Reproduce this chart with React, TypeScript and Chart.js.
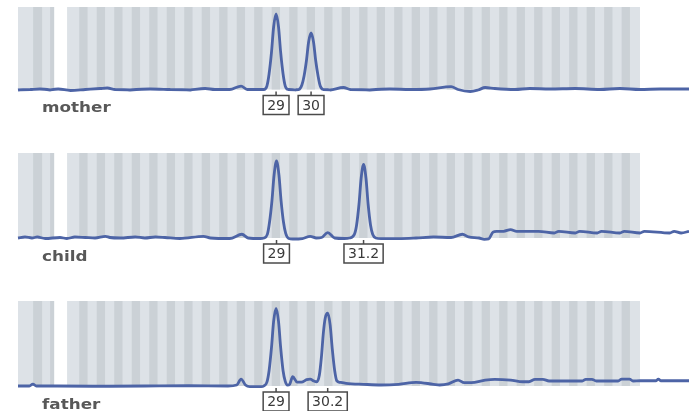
import { useEffect, useRef } from "react";
import { Chart, registerables } from "chart.js";

Chart.register(...registerables);

// x axis: fragment size (bp); y axis: signal (RFU)
const X_MIN = 180.5;
const X_MAX = 257.2;
const BIN_TOP = 1000;

// allele bins (shaded background)
const lightBins: number[][] = [
  [180.5, 184.63],
  [186.11, 251.6],
];
const darkBins: number[][] = [
  [182.23, 183.26], [184.17, 184.63],
  [187.5, 188.45], [189.5, 190.45], [191.5, 192.45], [193.5, 194.45],
  [195.5, 196.45], [197.5, 198.45], [199.5, 200.45], [201.5, 202.45],
  [203.5, 204.45], [205.5, 206.45], [207.5, 208.45], [209.5, 210.45],
  [211.5, 212.45], [213.5, 214.45], [215.5, 216.45], [217.5, 218.45],
  [219.5, 220.45], [221.5, 222.45], [223.5, 224.45], [225.5, 226.45],
  [227.5, 228.45], [229.5, 230.45], [231.5, 232.45], [233.5, 234.45],
  [235.5, 236.45], [237.5, 238.45], [239.5, 240.45], [241.5, 242.45],
  [243.5, 244.45], [245.5, 246.45], [247.5, 248.45], [249.5, 250.45],
];

const sampleNames = ["mother", "child", "father"];

// mother trace
const motherX = [
  180.5, 181.9, 183.0, 184.2, 185.1, 186.5, 188.2, 189.9, 190.7, 191.6, 193.3, 195.6, 197.9,
  200.2, 201.9, 203.0, 204.7, 206.0, 206.7, 208.2,
  208.6, 208.95, 209.2, 209.48, 209.72, 210.0, 210.28, 210.52, 210.8, 211.05, 211.4,
  212.2, 212.6, 212.95, 213.2, 213.48, 213.72, 214.0, 214.28, 214.52, 214.8, 215.05, 215.4,
  216.2, 217.7, 218.5, 220.7, 223.0, 225.3, 227.6, 230.0, 230.8, 232.2, 233.1, 233.9, 235.0,
  237.3, 239.0, 241.3, 244.2, 247.0, 249.3, 251.6, 253.9, 257.2,
];
const motherY = [
  -6, 0, 6, -6, 6, -12, 0, 12, 18, 0, -6, 6, 0,
  -6, 12, 0, 0, 42, 0, 0,
  0, 42, 188, 455, 758, 915, 758, 455, 188, 42, 0,
  -6, 0, 55, 164, 358, 576, 685, 576, 358, 164, 42, 0,
  -6, 24, 0, -6, 6, 0, 6, 36, 0, -24, -6, 24, 12,
  0, 12, 6, 12, 0, 12, 0, 6, 6,
];
const motherAlleles = ["29", "30"];
const motherAlleleBp = [210, 214];

// child trace
const childX = [
  180.5, 181.3, 182.1, 182.7, 183.6, 185.3, 186.1, 187.0, 188.2, 189.3, 190.5, 191.0, 192.2,
  193.9, 195.0, 196.2, 197.3, 199.0, 201.7, 202.5, 204.7, 206.1, 206.8, 208.2,
  208.6, 209.0, 209.25, 209.53, 209.77, 210.05, 210.33, 210.57, 210.85, 211.1, 211.45,
  211.9, 213.0, 213.9, 214.6, 215.2, 215.9, 216.7, 217.8, 218.4,
  218.95, 219.2, 219.48, 219.72, 220.0, 220.28, 220.52, 220.8, 221.05, 221.4,
  222.0, 224.0, 226.0, 228.0, 230.0, 231.3, 232.0, 233.2, 233.8, 234.3, 234.8, 235.2,
  236.0, 236.8, 237.5, 240.0, 241.8, 242.3, 244.2, 244.7, 246.7, 247.2, 249.3, 249.8,
  251.6, 252.1, 255.0, 255.5, 256.3, 257.2,
];
const childY = [
  0, 12, 0, 12, -6, 6, -6, 12, 6, 0, 20, 6, 0,
  12, 0, 12, 6, -6, 20, 0, -6, 44, 0, -6,
  0, 42, 185, 441, 738, 906, 738, 441, 185, 55, -6,
  -12, -6, 20, 0, 6, 64, 0, -6, 0,
  42, 150, 400, 700, 867, 700, 400, 150, 42, 0,
  -7, -7, 0, 12, 6, 44, 12, 0, -15, -10, 70, 79,
  79, 99, 79, 79, 59, 79, 59, 79, 59, 79, 59, 79,
  59, 79, 59, 79, 59, 79,
];
const childAlleles = ["29", "31.2"];
const childAlleleBp = [210.05, 220];

// father trace
const fatherX = [
  180.5, 181.8, 182.2, 182.6, 185.0, 190.0, 195.0, 200.0, 204.5, 205.5, 206.0, 206.5,
  207.0, 208.3,
  208.6, 208.95, 209.2, 209.48, 209.72, 210.0, 210.28, 210.52, 210.8, 211.05, 211.3,
  211.55, 211.9, 212.4, 212.9, 213.5, 213.9, 214.3,
  214.65, 214.95, 215.2, 215.4, 215.62, 215.9, 216.18, 216.42, 216.7, 216.95, 217.3,
  218.0, 220.0, 222.0, 224.0, 226.0, 228.0, 228.7, 229.7, 230.8, 231.5, 232.3, 233.9,
  235.0, 236.8, 238.2, 238.9, 239.6, 240.5, 241.2, 245.0, 245.4, 246.1, 246.6, 249.1,
  249.5, 250.4, 250.8, 251.6, 253.4, 253.7, 254.0, 257.2,
];
const fatherY = [
  0, 0, 23, 0, 0, -3, 0, 3, 0, 12, 82, 12,
  -8, -8,
  0, 45, 180, 457, 760, 914, 760, 457, 180, 55, 10,
  20, 109, 45, 45, 75, 82, 60,
  50, 130, 360, 620, 800, 856, 720, 440, 180, 60, 43,
  32, 20, 12, 20, 43, 20, 12, 25, 70, 39, 39, 70,
  79, 70, 50, 50, 79, 79, 59, 59, 79, 79, 59, 59,
  82, 82, 59, 62, 62, 82, 62, 62,
];
const fatherAlleles = ["29", "30.2"];
const fatherAlleleBp = [210, 215.9];

const panels = [
  { name: sampleNames[0], xs: motherX, ys: motherY, alleles: motherAlleles, allelePos: motherAlleleBp, top: 7, gap: 82.5, height: 113 },
  { name: sampleNames[1], xs: childX, ys: childY, alleles: childAlleles, allelePos: childAlleleBp, top: 153, gap: 85, height: 113 },
  { name: sampleNames[2], xs: fatherX, ys: fatherY, alleles: fatherAlleles, allelePos: fatherAlleleBp, top: 301, gap: 85, height: 110 },
];

const binPlugin = {
  id: "bins",
  beforeDatasetsDraw(chart: any) {
    const { ctx, scales } = chart;
    const xs = scales.x;
    const ys = scales.y;
    const yTop = ys.getPixelForValue(BIN_TOP);
    const yBot = ys.getPixelForValue(0);
    ctx.save();
    ctx.fillStyle = "rgb(221,226,231)";
    for (const [a, b] of lightBins) {
      const x0 = xs.getPixelForValue(a);
      const x1 = xs.getPixelForValue(b);
      ctx.fillRect(x0, yTop, x1 - x0, yBot - yTop);
    }
    ctx.fillStyle = "rgb(203,209,214)";
    for (const [a, b] of darkBins) {
      const x0 = xs.getPixelForValue(a);
      const x1 = xs.getPixelForValue(b);
      ctx.fillRect(x0, yTop, x1 - x0, yBot - yTop);
    }
    ctx.restore();
  },
};

function makeLabelPlugin(name: string, alleles: string[], pos: number[]) {
  return {
    id: "labels",
    afterDatasetsDraw(chart: any) {
      const { ctx, scales } = chart;
      const xs = scales.x;
      const base = scales.y.getPixelForValue(0);
      ctx.save();
      // sample name
      ctx.font = 'bold 14px "DejaVu Sans"';
      ctx.fillStyle = "#585858";
      ctx.textBaseline = "alphabetic";
      ctx.save();
      ctx.translate(xs.getPixelForValue(X_MIN) + 24, base + 22.5);
      ctx.scale(1.2, 1);
      ctx.fillText(name, 0, 0);
      ctx.restore();
      // allele call boxes
      ctx.font = '14px "DejaVu Sans"';
      ctx.textAlign = "center";
      ctx.textBaseline = "middle";
      alleles.forEach((a, i) => {
        const cx = xs.getPixelForValue(pos[i]);
        const w = ctx.measureText(a).width + 8;
        const bt = base + 6;
        const bh = 19;
        ctx.strokeStyle = "#4a4a4a";
        ctx.lineWidth = 1.5;
        ctx.beginPath();
        ctx.moveTo(cx, base + 2);
        ctx.lineTo(cx, bt);
        ctx.stroke();
        ctx.fillStyle = "#ffffff";
        ctx.fillRect(cx - w / 2, bt, w, bh);
        ctx.strokeRect(cx - w / 2, bt, w, bh);
        ctx.fillStyle = "#3a3a3a";
        ctx.fillText(a, cx, bt + bh / 2 + 1);
      });
      ctx.restore();
    },
  };
}

function Panel({ p }: { p: typeof panels[number] }) {
  const ref = useRef<HTMLCanvasElement | null>(null);
  useEffect(() => {
    if (!ref.current) return;
    const chart = new Chart(ref.current, {
      type: "line",
      data: {
        datasets: [
          {
            data: p.xs.map((x, i) => ({ x, y: p.ys[i] })),
            borderColor: "#4d64a6",
            borderWidth: 2.8,
            pointRadius: 0,
            fill: false,
            cubicInterpolationMode: "monotone",
            clip: false as any,
          },
        ],
      },
      options: {
        animation: false,
        responsive: false,
        devicePixelRatio: 1,
        events: [],
        layout: { padding: { left: 18, right: 0, top: 0, bottom: p.height - p.gap } },
        scales: {
          x: { type: "linear", min: X_MIN, max: X_MAX, display: false },
          y: { type: "linear", min: 0, max: BIN_TOP, display: false },
        },
        plugins: { legend: { display: false }, tooltip: { enabled: false } },
      },
      plugins: [binPlugin, makeLabelPlugin(p.name, p.alleles, p.allelePos)],
    } as any);
    return () => chart.destroy();
  }, [p]);
  return (
    <canvas
      ref={ref}
      width={689}
      height={p.height}
      style={{ position: "absolute", left: 0, top: p.top, width: 689, height: p.height }}
    />
  );
}

export default function App() {
  return (
    <div style={{ position: "fixed", left: 0, top: 0, width: 689, height: 411, background: "#ffffff" }}>
      {panels.map((p) => (
        <Panel key={p.name} p={p} />
      ))}
    </div>
  );
}
